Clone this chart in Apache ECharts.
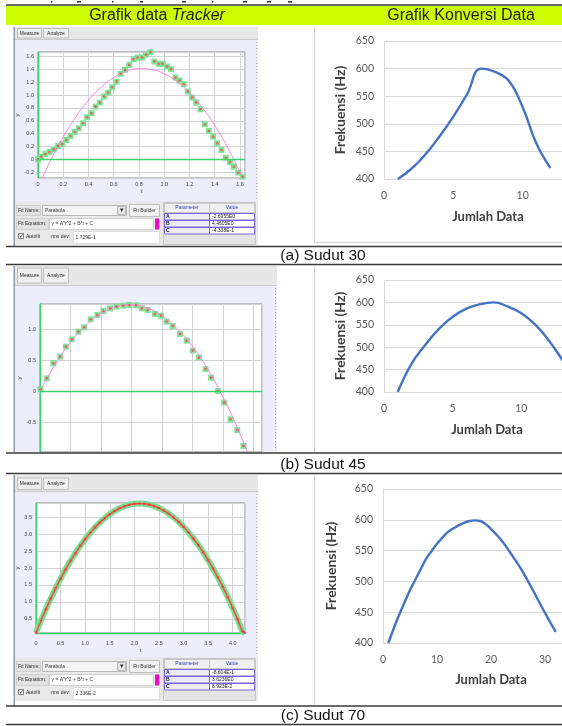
<!DOCTYPE html>
<html lang="id">
<head>
<meta charset="utf-8">
<title>Grafik data Tracker dan Grafik Konversi Data</title>
<script src="https://cdn.jsdelivr.net/npm/echarts@6.0.0/dist/echarts.min.js"></script>
<style>
    html, body { margin: 0; padding: 0; background: #fff; }
    #main { width: 562px; height: 726px; }
</style>
</head>
<body>
<div id="main"></div>
<script type="text/javascript">
    // ---- (a) Sudut 30 : Tracker points (t, y) and parabola fit ----
    var trkA_t = [0.000, 0.026, 0.058, 0.090, 0.125, 0.159, 0.191, 0.225, 0.257, 0.291, 0.323, 0.358, 0.389, 0.424, 0.456, 0.490, 0.524,
        0.556, 0.588, 0.623, 0.654, 0.689, 0.723, 0.758, 0.789, 0.824, 0.856, 0.890, 0.922, 0.956, 0.988, 1.023, 1.054, 1.089,
        1.121, 1.155, 1.187, 1.221, 1.253, 1.287, 1.322, 1.354, 1.388, 1.420, 1.454, 1.489, 1.521, 1.552, 1.587, 1.621];
    var trkA_y = [0.000, 0.042, 0.083, 0.114, 0.156, 0.208, 0.239, 0.301, 0.364, 0.426, 0.483, 0.561, 0.655, 0.717, 0.821, 0.883, 0.977,
        1.039, 1.122, 1.210, 1.330, 1.392, 1.470, 1.558, 1.584, 1.584, 1.626, 1.668, 1.522, 1.486, 1.486, 1.444, 1.403, 1.273,
        1.226, 1.169, 1.055, 0.961, 0.883, 0.779, 0.545, 0.442, 0.353, 0.249, 0.145, 0.026, -0.042, -0.114, -0.208, -0.270];
    var fitA_t = [0.02, 0.05, 0.1, 0.2, 0.3, 0.4, 0.5, 0.6, 0.7, 0.8, 0.9, 1.0, 1.1, 1.2, 1.3, 1.4, 1.5, 1.6, 1.65];
    var fitA_y = [-0.345, -0.218, -0.015, 0.351, 0.662, 0.919, 1.123, 1.272, 1.368, 1.410, 1.397, 1.331, 1.211, 1.037, 0.810, 0.528, 0.192, -0.198, -0.413];
    var fitA_param = ['-2.6955E0', '4.4605E0', '-4.338E-1'];
    var fitA_rms = '1.729E-1';

    // ---- (b) Sudut 45 ----
    var trkB_t = [0.002, 0.022, 0.044, 0.066, 0.085, 0.104, 0.126, 0.145, 0.166, 0.188, 0.208, 0.230, 0.251, 0.273, 0.293, 0.315, 0.334,
        0.353, 0.377, 0.397, 0.415, 0.435, 0.459, 0.481, 0.501, 0.521, 0.543, 0.561, 0.583, 0.604, 0.625, 0.647, 0.667];
    var trkB_y = [0.027, 0.204, 0.446, 0.554, 0.715, 0.833, 0.957, 1.027, 1.156, 1.226, 1.290, 1.333, 1.360, 1.376, 1.387, 1.382, 1.333,
        1.306, 1.242, 1.215, 1.118, 1.048, 0.919, 0.812, 0.651, 0.538, 0.355, 0.215, 0.000, -0.188, -0.457, -0.629, -0.887];
    var fitB_t = [0, 0.05, 0.1, 0.15, 0.2, 0.25, 0.3, 0.35, 0.4, 0.45, 0.5, 0.55, 0.6, 0.65, 0.7];
    var fitB_y = [0, 0.431, 0.782, 1.054, 1.245, 1.357, 1.389, 1.341, 1.213, 1.005, 0.720, 0.351, -0.097, -0.624, -1.231];

    // ---- (c) Sudut 70 ----
    var trkC_t = [0, 0.1, 0.2, 0.3, 0.4, 0.5, 0.6, 0.7, 0.8, 0.9, 1.0, 1.1, 1.2, 1.3, 1.4, 1.5, 1.6, 1.7, 1.8, 1.9, 2.0, 2.1,
        2.2, 2.3, 2.4, 2.5, 2.6, 2.7, 2.8, 2.9, 3.0, 3.1, 3.2, 3.3, 3.4, 3.5, 3.6, 3.7, 3.8, 3.9, 4.0, 4.1, 4.2, 4.24];
    var trkC_y = [0.09, 0.443, 0.780, 1.099, 1.401, 1.686, 1.954, 2.204, 2.437, 2.654, 2.852, 3.034, 3.199, 3.346, 3.476, 3.589,
        3.684, 3.763, 3.824, 3.868, 3.895, 3.904, 3.897, 3.872, 3.830, 3.771, 3.694, 3.601, 3.490, 3.362, 3.216, 3.054, 2.874,
        2.677, 2.463, 2.232, 1.983, 1.718, 1.435, 1.135, 0.817, 0.483, 0.131, 0.09];
    var fitC_param = ['-8.604E-1', '3.6236E0', '8.923E-2'];
    var fitC_rms = '2.336E-2';

    // ---- Grafik Konversi Data (Jumlah Data vs Frekuensi) ----
    var jumlahA = [1, 2, 3, 4, 5, 6, 7, 8, 9, 10, 11, 12];
    var frekA = [400, 419, 445, 477, 513, 554, 600, 594, 578, 530, 464, 420];
    var jumlahB = [1, 2, 3, 4, 5, 6, 7, 8, 9, 10, 11, 12, 13, 14];
    var frekB = [400, 463, 505, 541, 568, 586, 596, 600, 591, 576, 551, 515, 471, 422];
    var jumlahC = [1, 2, 3, 4, 5, 6, 7, 8, 9, 10, 11, 12, 13, 14, 15, 16, 17, 18, 19, 20, 21, 22, 23, 24, 25, 26, 27, 28, 29, 30, 31, 32];
    var frekC = [400, 424, 446, 466, 486, 503, 520, 537, 549, 561, 571, 580, 586, 591, 595, 598, 599, 598, 593, 585, 576, 566,
        554, 541, 528, 514, 498, 482, 465, 449, 433, 418];

    var SANS = '"Liberation Sans", Arial, sans-serif';
    var XL = 'Lato, "Open Sans", sans-serif';

    function pairs(xs, ys) {
        return xs.map(function (x, i) { return [x, ys[i]]; });
    }

    // ---------- page decoration (table, tracker window chrome) ----------
    var g = [];

    function rect(x, y, w, h, fill, stroke, z) {
        g.push({
            type: 'rect', silent: true, z: z == null ? -5 : z,
            shape: { x: x, y: y, width: w, height: h },
            style: { fill: fill || 'none', stroke: stroke || 'none', lineWidth: 1 }
        });
    }

    function seg(x1, y1, x2, y2, color, w, z, dash) {
        g.push({
            type: 'line', silent: true, z: z == null ? 10 : z,
            shape: { x1: x1, y1: y1, x2: x2, y2: y2 },
            style: { stroke: color, lineWidth: w || 1, lineDash: dash || null }
        });
    }

    function txt(x, y, s, font, color, align, rich) {
        g.push({
            type: 'text', silent: true, z: 10,
            style: {
                x: x, y: y, text: s, font: font, fill: color || '#222',
                textAlign: align || 'left', textVerticalAlign: 'middle',
                align: align || 'left', verticalAlign: 'middle', rich: rich
            }
        });
    }

    // descenders of the line of text above the table
    [[51, 1.5], [77, 4], [112, 1.5], [140, 3], [182, 4], [212, 1.5], [243, 4], [267, 4], [288, 4]].forEach(function (m) {
        rect(m[0], 1, m[1], 1.5, '#333', null, 1);
    });

    // table
    rect(6, 5.5, 556, 19.5, '#ccff00');
    seg(6, 5, 562, 5, '#3a3a3a', 1.5);
    txt(157, 15.5, 'Grafik data {i|Tracker}', '16px ' + SANS, '#1b1b1b', 'center',
        { i: { font: 'italic 16px ' + SANS, fill: '#1b1b1b' } });
    txt(461, 15.5, 'Grafik Konversi Data', '16px ' + SANS, '#1b1b1b', 'center');
    [246.5, 264.5, 453, 473.5, 706, 724.5].forEach(function (y) { seg(6, y, 562, y, '#3a3a3a', 1.5); });
    txt(323, 256, '(a) Sudut 30', '15.5px ' + SANS, '#111', 'center');
    txt(323, 464.5, '(b) Sudut 45', '15.5px ' + SANS, '#111', 'center');
    txt(323, 716, '(c) Sudut 70', '15.5px ' + SANS, '#111', 'center');

    // excel chart frames
    seg(314.5, 27, 314.5, 242, '#d4d4d4', 1, -4);
    seg(314, 242.5, 562, 242.5, '#d4d4d4', 1, -4);
    seg(314.5, 266, 314.5, 452, '#d4d4d4', 1, -4);
    seg(314.5, 475, 314.5, 705, '#d4d4d4', 1, -4);

    function trackerFrame(top, bottom, right, barH, btnY, btnH, lavBottom) {
        rect(13.5, top, 1.5, bottom - top, '#8f9bb3', null, -4);
        rect(15, top, right - 15, barH, '#e7e7e7', null, -5);
        seg(15, top + barH - 0.5, right, top + barH - 0.5, '#c9c9c9', 1, -4);
        rect(17.5, btnY + 0.5, 24, btnH, '#efefef', '#bdbdbd', -4);
        txt(29.5, btnY + btnH / 2 + 0.5, 'Measure', '5px ' + SANS, '#222', 'center');
        rect(43.5, btnY + 0.5, 25, btnH, '#efefef', '#bdbdbd', -4);
        txt(56, btnY + btnH / 2 + 0.5, 'Analyze', '5px ' + SANS, '#222', 'center');
        rect(15, top + barH, right - 15, lavBottom - top - barH, '#ededfb', null, -5);
        seg(right - 1.5, top + barH + 2, right - 1.5, lavBottom - 2, '#b4b4c8', 1, -4, [1, 2]);
    }

    function fitPanel(y0, right, vals, rms) {
        var f = '5px ' + SANS;
        rect(15, y0, right - 15, 44, '#e9e9e9', null, -5);
        rect(16.5, y0 + 4.5, 24, 10, '#e2e2e2', '#cfcfcf', -4);
        txt(18, y0 + 9.5, 'Fit Name:', f, '#333');
        rect(42.5, y0 + 4.5, 84, 10, '#f5f5f5', '#b9b9b9', -4);
        txt(45, y0 + 9.5, 'Parabola', f, '#333');
        rect(117.5, y0 + 5.5, 8, 8, '#e4e4e4', '#b9b9b9', -3);
        txt(121.5, y0 + 9.5, '\u25BE', '7px ' + SANS, '#333', 'center');
        rect(129.5, y0 + 3.5, 30, 12, '#f2f2f2', '#bdbdbd', -4);
        txt(144.5, y0 + 9.5, 'Fit Builder', f, '#333', 'center');
        rect(16.5, y0 + 17.5, 32, 11, '#e2e2e2', '#cfcfcf', -4);
        txt(18, y0 + 23, 'Fit Equation:', f, '#333');
        rect(49.5, y0 + 17.5, 104, 11, '#fff', '#cfcfcf', -4);
        txt(51.5, y0 + 23, 'y = A*t^2 + B*t + C', f, '#444');
        rect(155, y0 + 17.5, 4, 11, '#ff00cc', null, -4);
        rect(18.5, y0 + 32.5, 5, 5, '#fff', '#7a7a7a', -4);
        txt(21, y0 + 35, '\u2713', '6px ' + SANS, '#334', 'center');
        txt(26, y0 + 35.5, 'Autofit', f, '#333');
        txt(51, y0 + 35.5, 'rms dev:', f, '#333');
        rect(73.5, y0 + 30.5, 86, 12, '#fff', '#dcdcdc', -4);
        txt(75.5, y0 + 36.5, rms, f, '#333');
        rect(163.5, y0 + 1.5, 92, 42, '#e4e4e4', '#c8c8c8', -4);
        rect(164.5, y0 + 2.5, 45, 9, '#f0f0f0', '#c8c8c8', -3);
        rect(209.5, y0 + 2.5, 45, 9, '#f0f0f0', '#c8c8c8', -3);
        txt(187, y0 + 7, 'Parameter', f, '#3535c8', 'center');
        txt(232, y0 + 7, 'Value', f, '#3535c8', 'center');
        ['A', 'B', 'C'].forEach(function (p, i) {
            var ry = y0 + 12 + i * 7;
            rect(164.5, ry + 0.5, 45, 6.5, '#ebebf5', '#7d63ee', -3);
            rect(209.5, ry + 0.5, 45, 6.5, '#fff', '#7d63ee', -3);
            txt(166, ry + 4, p, 'bold 5px ' + SANS, '#222');
            txt(212, ry + 4, vals[i], f, '#222');
        });
    }

    trackerFrame(27, 246, 258, 13, 28, 9.5, 201);
    fitPanel(201, 258, fitA_param, fitA_rms);
    trackerFrame(266, 452, 277, 20, 267.5, 15, 452);
    trackerFrame(475, 706, 258, 17, 477.5, 11.5, 657);
    fitPanel(657, 258, fitC_param, fitC_rms);

    // ---------- axes ----------
    function trFmt(v) {
        return Math.abs(v) < 1e-9 ? '0' : v.toFixed(1);
    }

    function trX(gi, min, max, split, opt) {
        return {
            type: 'value', gridIndex: gi, min: min, max: max, splitNumber: split,
            axisLine: opt.line ? { show: true, onZero: false, lineStyle: { color: '#3ad36b', width: 1.3 } } : { show: false },
            axisTick: { show: false },
            splitLine: { show: true, lineStyle: { color: '#d2d2d2', width: 1 } },
            axisLabel: {
                show: opt.labels, fontSize: 5.5, color: '#444', fontFamily: SANS, margin: opt.margin || 3,
                showMaxLabel: false, formatter: trFmt
            },
            name: opt.labels ? 't' : '', nameLocation: 'middle', nameGap: opt.nameGap || 10,
            nameTextStyle: { fontSize: 6, color: '#333', fontFamily: SANS }
        };
    }

    function trY(gi, min, max, split, nameGap) {
        return {
            type: 'value', gridIndex: gi, min: min, max: max, splitNumber: split,
            axisLine: { show: true, lineStyle: { color: '#3ad36b', width: 1.3 } },
            axisTick: { show: false },
            splitLine: { show: true, lineStyle: { color: '#d2d2d2', width: 1 } },
            axisLabel: {
                fontSize: 5.5, color: '#444', fontFamily: SANS, margin: 4,
                showMinLabel: false, showMaxLabel: false, formatter: trFmt
            },
            name: 'y', nameLocation: 'middle', nameGap: nameGap,
            nameTextStyle: { fontSize: 6, color: '#333', fontFamily: SANS }
        };
    }

    function xlX(gi, max, interval, nameGap) {
        return {
            type: 'value', gridIndex: gi, min: 0, max: max, interval: interval,
            axisLine: { show: true, lineStyle: { color: '#d9d9d9', width: 1 } },
            axisTick: { show: false },
            splitLine: { show: false },
            axisLabel: { fontSize: 10.5, color: '#595959', fontFamily: XL, margin: 11 },
            name: 'Jumlah Data', nameLocation: 'middle', nameGap: nameGap,
            nameTextStyle: { fontSize: 13, fontWeight: 'bold', color: '#404040', fontFamily: XL }
        };
    }

    function xlY(gi, nameGap) {
        return {
            type: 'value', gridIndex: gi, min: 400, max: 650, interval: 50,
            axisLine: { show: true, lineStyle: { color: '#d9d9d9', width: 1 } },
            axisTick: { show: false },
            splitLine: { show: true, lineStyle: { color: '#d9d9d9', width: 1 } },
            axisLabel: { fontSize: 10.5, color: '#595959', fontFamily: XL, margin: 10 },
            name: 'Frekuensi (Hz)', nameLocation: 'middle', nameGap: nameGap,
            nameTextStyle: { fontSize: 14, fontWeight: 'bold', color: '#404040', fontFamily: XL }
        };
    }

    // ---------- series ----------
    var greenAxis = {
        silent: true, symbol: 'none', label: { show: false },
        lineStyle: { color: '#3ad36b', width: 1.3, type: 'solid' },
        data: [{ yAxis: 0 }]
    };

    function trackerMarks(gi, t, y, fitT, fitY) {
        var out = [{
            type: 'scatter', xAxisIndex: gi, yAxisIndex: gi, data: pairs(t, y),
            symbol: 'rect', symbolSize: 6, itemStyle: { color: '#78e394', opacity: 0.95 },
            markLine: greenAxis, z: 2
        }];
        if (fitT) {
            out.push({
                type: 'line', xAxisIndex: gi, yAxisIndex: gi, data: pairs(fitT, fitY), smooth: true,
                showSymbol: false, lineStyle: { color: '#ff7fe0', width: 1 }, z: 3
            });
        }
        out.push({
            type: 'scatter', xAxisIndex: gi, yAxisIndex: gi, data: pairs(t, y),
            symbol: 'circle', symbolSize: 2.6, itemStyle: { color: '#ff4646' }, z: 4
        });
        return out;
    }

    function excelLine(gi, xs, ys) {
        return {
            type: 'line', xAxisIndex: gi, yAxisIndex: gi, data: pairs(xs, ys), smooth: 0.45,
            showSymbol: false, lineStyle: { color: '#4472c4', width: 2.4 }
        };
    }

    var series = [].concat(
        trackerMarks(0, trkA_t, trkA_y, fitA_t, fitA_y),
        [excelLine(1, jumlahA, frekA)],
        trackerMarks(2, trkB_t, trkB_y, fitB_t, fitB_y),
        [excelLine(3, jumlahB, frekB)],
        [{
            type: 'line', xAxisIndex: 4, yAxisIndex: 4, data: pairs(trkC_t, trkC_y), smooth: true,
            showSymbol: false, lineStyle: { color: '#72e391', width: 6 }, z: 2
        }, {
            type: 'line', xAxisIndex: 4, yAxisIndex: 4, data: pairs(trkC_t, trkC_y), smooth: true,
            symbol: 'circle', symbolSize: 2.6, showSymbol: true, itemStyle: { color: '#ff3b3b' },
            lineStyle: { color: '#ff4a4a', width: 1.6 }, z: 4
        }],
        [excelLine(5, jumlahC, frekC)]
    );

    var trGrid = { show: true, backgroundColor: '#fff', borderColor: '#8a8a8a', borderWidth: 1, outerBoundsMode: 'none' };
    var xlGrid = { outerBoundsMode: 'none' };

    var option = {
        animation: false,
        backgroundColor: '#fff',
        graphic: { elements: g },
        grid: [
            Object.assign({ left: 38, top: 52, width: 207, height: 126 }, trGrid),
            Object.assign({ left: 384, top: 41, width: 208, height: 138 }, xlGrid),
            Object.assign({ left: 40, top: 304, width: 222, height: 148 }, trGrid),
            Object.assign({ left: 384, top: 280, width: 206, height: 112 }, xlGrid),
            Object.assign({ left: 36, top: 503, width: 209, height: 130 }, trGrid),
            Object.assign({ left: 383, top: 489, width: 216, height: 154 }, xlGrid)
        ],
        xAxis: [
            trX(0, 0, 1.64, 8, { labels: true, margin: 3, nameGap: 9.5 }),
            xlX(1, 15, 5, 31),
            trX(2, 0, 0.728, 7, { labels: false }),
            xlX(3, 15, 5, 31),
            trX(4, 0, 4.25, 8, { labels: true, line: true, margin: 7, nameGap: 12 }),
            xlX(5, 40, 10, 30)
        ],
        yAxis: [
            trY(0, -0.29, 1.67, 10, 10),
            xlY(1, 37),
            trY(2, -0.984, 1.403, 5, 12),
            xlY(3, 37),
            trY(4, 0.08, 3.92, 8, 9),
            xlY(5, 45)
        ],
        series: series
    };

    var myChart = echarts.init(document.getElementById('main'), null, { renderer: 'canvas' });
    myChart.setOption(option);
</script>
</body>
</html>
